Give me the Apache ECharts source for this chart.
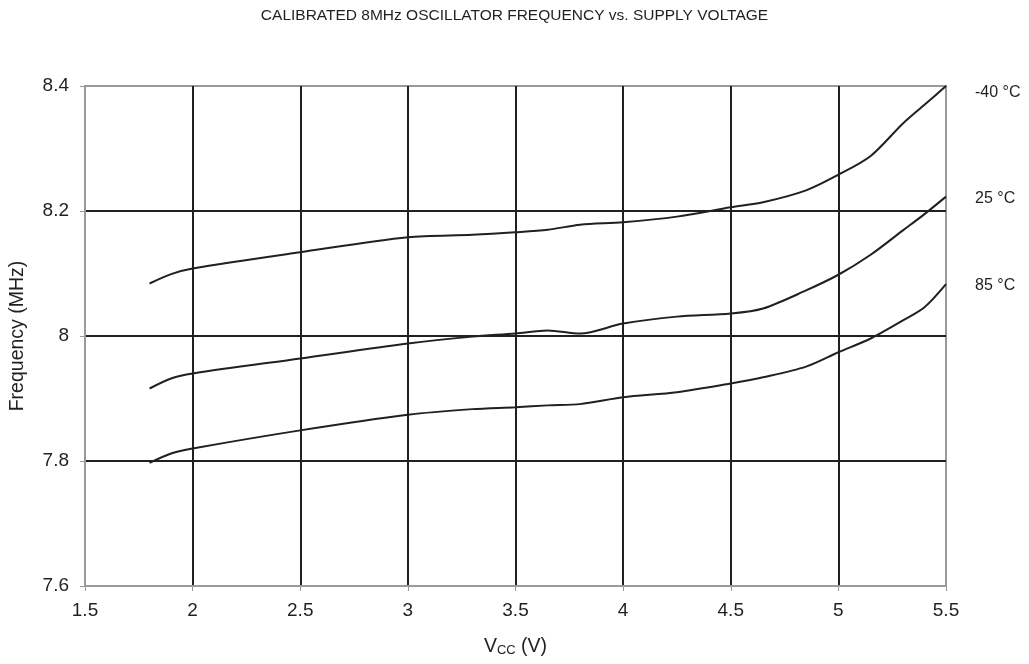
<!DOCTYPE html>
<html>
<head>
<meta charset="utf-8">
<script src="https://cdn.jsdelivr.net/npm/echarts@6/dist/echarts.min.js"></script>
<style>html,body{margin:0;padding:0;background:#fff;}#c{width:1029px;height:664px;}</style>
</head>
<body>
<div id="c"></div>
<script>
const vcc = [1.8, 1.9, 2.0, 2.5, 3.0, 3.3, 3.5, 3.65, 3.8, 4.0, 4.25, 4.5, 4.65, 4.85, 5.0, 5.15, 5.3, 5.4, 5.5];
const fM40 = [8.084, 8.099, 8.108, 8.134, 8.158, 8.162, 8.166, 8.170, 8.178, 8.182, 8.191, 8.206, 8.214, 8.233, 8.258, 8.288, 8.340, 8.370, 8.400];
const f25  = [7.916, 7.932, 7.940, 7.964, 7.988, 7.999, 8.004, 8.009, 8.004, 8.020, 8.031, 8.036, 8.044, 8.073, 8.098, 8.130, 8.169, 8.195, 8.223];
const f85  = [7.797, 7.812, 7.820, 7.849, 7.874, 7.883, 7.886, 7.889, 7.891, 7.902, 7.910, 7.924, 7.934, 7.951, 7.974, 7.996, 8.025, 8.046, 8.083];
const seriesNames = ['-40 °C', '25 °C', '85 °C'];
const xTicks = [1.5, 5.5, 0.5];
const yTicks = [7.6, 8.4, 0.2];

const zip = (xs, ys) => xs.map((x, i) => [x, ys[i]]);
const lineColor = '#231f20';
const frameColor = '#9a9a9a';
const font = 'Liberation Sans, Arial, sans-serif';

const mk = (name, ys, dy) => ({
  name: name,
  type: 'line',
  smooth: 0.3,
  symbol: 'none',
  data: zip(vcc, ys),
  lineStyle: { color: lineColor, width: 2 },
  endLabel: {
    show: true,
    formatter: name,
    distance: 29,
    offset: [0, dy],
    color: '#231f20',
    fontSize: 16,
    fontFamily: font
  },
  z: 3
});

const chart = echarts.init(document.getElementById('c'), null, { renderer: 'canvas' });
chart.setOption({
  backgroundColor: '#fff',
  animation: false,
  title: {
    text: 'CALIBRATED 8MHz OSCILLATOR FREQUENCY vs. SUPPLY VOLTAGE',
    left: 'center',
    top: 3,
    textStyle: { fontSize: 15.5, fontWeight: 'normal', color: '#231f20', fontFamily: font }
  },
  grid: {
    left: 84, right: 83, top: 86, bottom: 78,
    show: true, borderColor: frameColor, borderWidth: 2, backgroundColor: 'transparent'
  },
  xAxis: {
    type: 'value',
    min: xTicks[0], max: xTicks[1], interval: xTicks[2],
    axisLine: { show: true, lineStyle: { color: frameColor, width: 2 } },
    axisTick: { show: true, length: 5, lineStyle: { color: frameColor, width: 1 } },
    axisLabel: { fontSize: 19, color: '#231f20', margin: 15, fontFamily: font },
    splitLine: { show: true, showMinLine: false, showMaxLine: false, lineStyle: { color: lineColor, width: 2 } },
    name: '{a|V}{b|CC}{a| (V)}',
    nameLocation: 'middle',
    nameGap: 51,
    nameTextStyle: {
      rich: {
        a: { fontSize: 19.5, color: '#231f20', fontFamily: font },
        b: { fontSize: 13, color: '#231f20', fontFamily: font, verticalAlign: 'bottom', padding: [7, 0, 0, 0] }
      }
    }
  },
  yAxis: {
    type: 'value',
    min: yTicks[0], max: yTicks[1], interval: yTicks[2],
    axisLine: { show: true, lineStyle: { color: frameColor, width: 2 } },
    axisTick: { show: true, length: 5, lineStyle: { color: frameColor, width: 1 } },
    axisLabel: { fontSize: 19, color: '#231f20', margin: 16, fontFamily: font,
      formatter: v => (Math.round(v * 10) / 10).toString() },
    splitLine: { show: true, showMinLine: false, showMaxLine: false, lineStyle: { color: lineColor, width: 2 } },
    name: 'Frequency (MHz)',
    nameLocation: 'middle',
    nameGap: 57,
    nameTextStyle: { fontSize: 19.5, color: '#231f20', fontFamily: font }
  },
  series: [mk(seriesNames[0], fM40, 7), mk(seriesNames[1], f25, 2), mk(seriesNames[2], f85, 1)]
});
</script>
</body>
</html>
